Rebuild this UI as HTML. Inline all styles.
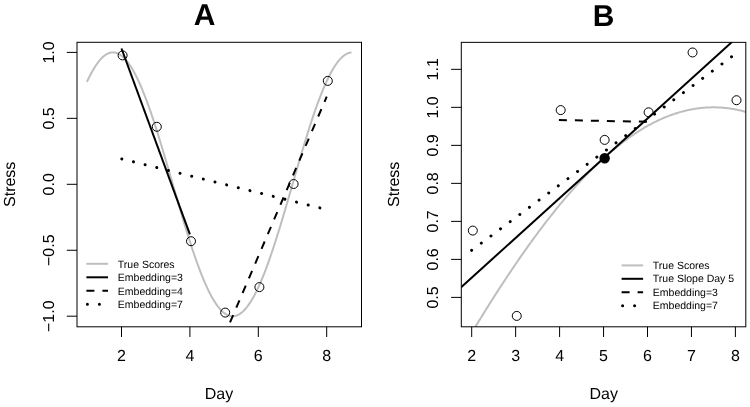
<!DOCTYPE html>
<html><head><meta charset="utf-8"><title>Figure</title>
<style>
html,body{margin:0;padding:0;background:#fff;}
body{width:750px;height:407px;overflow:hidden;}
svg{display:block;will-change:transform;filter:blur(0.4px);}
svg text{font-family:"Liberation Sans",sans-serif;fill:#000;text-rendering:geometricPrecision;}
</style></head><body>
<svg width="750" height="407" viewBox="0 0 750 407">
<defs>
<clipPath id="ca"><rect x="77.00" y="42.30" width="284.50" height="284.50"/></clipPath>
<clipPath id="cb"><rect x="461.30" y="42.35" width="284.50" height="284.45"/></clipPath>
</defs>
<rect width="750" height="407" fill="#fff"/>
<g clip-path="url(#ca)" fill="none">
<path d="M87.30,81.18 L87.98,79.72 L88.67,78.29 L89.35,76.90 L90.04,75.54 L90.72,74.22 L91.40,72.93 L92.09,71.68 L92.77,70.47 L93.46,69.29 L94.14,68.15 L94.82,67.05 L95.51,65.98 L96.19,64.95 L96.88,63.96 L97.56,63.01 L98.24,62.10 L98.93,61.23 L99.61,60.40 L100.30,59.61 L100.98,58.86 L101.66,58.14 L102.35,57.47 L103.03,56.84 L103.72,56.25 L104.40,55.71 L105.08,55.20 L105.77,54.74 L106.45,54.31 L107.14,53.93 L107.82,53.59 L108.50,53.30 L109.19,53.04 L109.87,52.83 L110.56,52.66 L111.24,52.53 L111.92,52.45 L112.61,52.41 L113.29,52.41 L113.98,52.45 L114.66,52.53 L115.34,52.66 L116.03,52.83 L116.71,53.04 L117.40,53.30 L118.08,53.59 L118.76,53.93 L119.45,54.31 L120.13,54.74 L120.82,55.20 L121.50,55.71 L122.18,56.25 L122.87,56.84 L123.55,57.47 L124.24,58.14 L124.92,58.86 L125.60,59.61 L126.29,60.40 L126.97,61.23 L127.66,62.10 L128.34,63.01 L129.02,63.96 L129.71,64.95 L130.39,65.98 L131.08,67.05 L131.76,68.15 L132.44,69.29 L133.13,70.47 L133.81,71.68 L134.50,72.93 L135.18,74.22 L135.86,75.54 L136.55,76.90 L137.23,78.29 L137.92,79.72 L138.60,81.18 L139.28,82.67 L139.97,84.19 L140.65,85.75 L141.34,87.34 L142.02,88.96 L142.70,90.61 L143.39,92.30 L144.07,94.01 L144.76,95.75 L145.44,97.52 L146.12,99.31 L146.81,101.14 L147.49,102.99 L148.18,104.87 L148.86,106.77 L149.54,108.70 L150.23,110.65 L150.91,112.63 L151.60,114.63 L152.28,116.65 L152.96,118.69 L153.65,120.76 L154.33,122.84 L155.02,124.95 L155.70,127.07 L156.38,129.21 L157.07,131.37 L157.75,133.55 L158.44,135.74 L159.12,137.95 L159.80,140.18 L160.49,142.42 L161.17,144.67 L161.86,146.93 L162.54,149.21 L163.22,151.50 L163.91,153.80 L164.59,156.10 L165.28,158.42 L165.96,160.75 L166.64,163.08 L167.33,165.42 L168.01,167.77 L168.70,170.12 L169.38,172.48 L170.06,174.84 L170.75,177.20 L171.43,179.57 L172.12,181.93 L172.80,184.30 L173.48,186.67 L174.17,189.03 L174.85,191.40 L175.54,193.76 L176.22,196.12 L176.90,198.48 L177.59,200.83 L178.27,203.18 L178.96,205.52 L179.64,207.85 L180.32,210.18 L181.01,212.50 L181.69,214.80 L182.38,217.10 L183.06,219.39 L183.74,221.67 L184.43,223.93 L185.11,226.18 L185.80,228.42 L186.48,230.65 L187.16,232.86 L187.85,235.05 L188.53,237.23 L189.22,239.39 L189.90,241.53 L190.58,243.65 L191.27,245.76 L191.95,247.84 L192.64,249.91 L193.32,251.95 L194.00,253.97 L194.69,255.97 L195.37,257.95 L196.06,259.90 L196.74,261.83 L197.42,263.73 L198.11,265.61 L198.79,267.46 L199.48,269.29 L200.16,271.08 L200.84,272.85 L201.53,274.59 L202.21,276.30 L202.90,277.99 L203.58,279.64 L204.26,281.26 L204.95,282.85 L205.63,284.41 L206.32,285.93 L207.00,287.42 L207.68,288.88 L208.37,290.31 L209.05,291.70 L209.74,293.06 L210.42,294.38 L211.10,295.67 L211.79,296.92 L212.47,298.13 L213.16,299.31 L213.84,300.45 L214.52,301.55 L215.21,302.62 L215.89,303.65 L216.58,304.64 L217.26,305.59 L217.94,306.50 L218.63,307.37 L219.31,308.20 L220.00,308.99 L220.68,309.74 L221.36,310.46 L222.05,311.13 L222.73,311.76 L223.42,312.35 L224.10,312.89 L224.78,313.40 L225.47,313.86 L226.15,314.29 L226.84,314.67 L227.52,315.01 L228.20,315.30 L228.89,315.56 L229.57,315.77 L230.26,315.94 L230.94,316.07 L231.62,316.15 L232.31,316.19 L232.99,316.19 L233.68,316.15 L234.36,316.07 L235.04,315.94 L235.73,315.77 L236.41,315.56 L237.10,315.30 L237.78,315.01 L238.46,314.67 L239.15,314.29 L239.83,313.86 L240.52,313.40 L241.20,312.89 L241.88,312.35 L242.57,311.76 L243.25,311.13 L243.94,310.46 L244.62,309.74 L245.30,308.99 L245.99,308.20 L246.67,307.37 L247.36,306.50 L248.04,305.59 L248.72,304.64 L249.41,303.65 L250.09,302.62 L250.78,301.55 L251.46,300.45 L252.14,299.31 L252.83,298.13 L253.51,296.92 L254.20,295.67 L254.88,294.38 L255.56,293.06 L256.25,291.70 L256.93,290.31 L257.62,288.88 L258.30,287.42 L258.98,285.93 L259.67,284.41 L260.35,282.85 L261.04,281.26 L261.72,279.64 L262.40,277.99 L263.09,276.30 L263.77,274.59 L264.46,272.85 L265.14,271.08 L265.82,269.29 L266.51,267.46 L267.19,265.61 L267.88,263.73 L268.56,261.83 L269.24,259.90 L269.93,257.95 L270.61,255.97 L271.30,253.97 L271.98,251.95 L272.66,249.91 L273.35,247.84 L274.03,245.76 L274.72,243.65 L275.40,241.53 L276.08,239.39 L276.77,237.23 L277.45,235.05 L278.14,232.86 L278.82,230.65 L279.50,228.42 L280.19,226.18 L280.87,223.93 L281.56,221.67 L282.24,219.39 L282.92,217.10 L283.61,214.80 L284.29,212.50 L284.98,210.18 L285.66,207.85 L286.34,205.52 L287.03,203.18 L287.71,200.83 L288.40,198.48 L289.08,196.12 L289.76,193.76 L290.45,191.40 L291.13,189.03 L291.82,186.67 L292.50,184.30 L293.18,181.93 L293.87,179.57 L294.55,177.20 L295.24,174.84 L295.92,172.48 L296.60,170.12 L297.29,167.77 L297.97,165.42 L298.66,163.08 L299.34,160.75 L300.02,158.42 L300.71,156.10 L301.39,153.80 L302.08,151.50 L302.76,149.21 L303.44,146.93 L304.13,144.67 L304.81,142.42 L305.50,140.18 L306.18,137.95 L306.86,135.74 L307.55,133.55 L308.23,131.37 L308.92,129.21 L309.60,127.07 L310.28,124.95 L310.97,122.84 L311.65,120.76 L312.34,118.69 L313.02,116.65 L313.70,114.63 L314.39,112.63 L315.07,110.65 L315.76,108.70 L316.44,106.77 L317.12,104.87 L317.81,102.99 L318.49,101.14 L319.18,99.31 L319.86,97.52 L320.54,95.75 L321.23,94.01 L321.91,92.30 L322.60,90.61 L323.28,88.96 L323.96,87.34 L324.65,85.75 L325.33,84.19 L326.02,82.67 L326.70,81.18 L327.38,79.72 L328.07,78.29 L328.75,76.90 L329.44,75.54 L330.12,74.22 L330.80,72.93 L331.49,71.68 L332.17,70.47 L332.86,69.29 L333.54,68.15 L334.22,67.05 L334.91,65.98 L335.59,64.95 L336.28,63.96 L336.96,63.01 L337.64,62.10 L338.33,61.23 L339.01,60.40 L339.70,59.61 L340.38,58.86 L341.06,58.14 L341.75,57.47 L342.43,56.84 L343.12,56.25 L343.80,55.71 L344.48,55.20 L345.17,54.74 L345.85,54.31 L346.54,53.93 L347.22,53.59 L347.90,53.30 L348.59,53.04 L349.27,52.83 L349.96,52.66 L350.64,52.53" stroke="#bebebe" stroke-width="2" stroke-linejoin="round" stroke-linecap="round"/>
<line x1="121.50" y1="48.52" x2="189.90" y2="234.35" stroke="#000" stroke-width="2"/>
<line x1="224.10" y1="336.19" x2="326.70" y2="96.71" stroke="#000" stroke-dashoffset="1" stroke-width="2" stroke-dasharray="8 8"/>
<line x1="121.80" y1="158.93" x2="327.00" y2="209.67" stroke="#000" stroke-width="3" stroke-dasharray="0.01 11.99" stroke-linecap="round"/>
</g>
<circle cx="122.60" cy="55.41" r="4.5" fill="none" stroke="#000" stroke-width="1"/>
<circle cx="156.80" cy="126.77" r="4.5" fill="none" stroke="#000" stroke-width="1"/>
<circle cx="191.00" cy="241.23" r="4.5" fill="none" stroke="#000" stroke-width="1"/>
<circle cx="225.20" cy="312.59" r="4.5" fill="none" stroke="#000" stroke-width="1"/>
<circle cx="259.40" cy="287.12" r="4.5" fill="none" stroke="#000" stroke-width="1"/>
<circle cx="293.60" cy="184.00" r="4.5" fill="none" stroke="#000" stroke-width="1"/>
<circle cx="327.80" cy="80.88" r="4.5" fill="none" stroke="#000" stroke-width="1"/>
<rect x="77.00" y="42.30" width="284.50" height="284.50" fill="none" stroke="#000" stroke-width="1"/>
<line x1="121.50" y1="326.80" x2="121.50" y2="337.00" stroke="#000" stroke-width="1"/>
<text x="121.50" y="361.2" font-size="16" text-anchor="middle">2</text>
<line x1="189.90" y1="326.80" x2="189.90" y2="337.00" stroke="#000" stroke-width="1"/>
<text x="189.90" y="361.2" font-size="16" text-anchor="middle">4</text>
<line x1="258.30" y1="326.80" x2="258.30" y2="337.00" stroke="#000" stroke-width="1"/>
<text x="258.30" y="361.2" font-size="16" text-anchor="middle">6</text>
<line x1="326.70" y1="326.80" x2="326.70" y2="337.00" stroke="#000" stroke-width="1"/>
<text x="326.70" y="361.2" font-size="16" text-anchor="middle">8</text>
<line x1="66.80" y1="316.20" x2="77.00" y2="316.20" stroke="#000" stroke-width="1"/>
<text transform="translate(53.9,316.20) rotate(-90)" font-size="16" text-anchor="middle">−1.0</text>
<line x1="66.80" y1="250.25" x2="77.00" y2="250.25" stroke="#000" stroke-width="1"/>
<text transform="translate(53.9,250.25) rotate(-90)" font-size="16" text-anchor="middle">−0.5</text>
<line x1="66.80" y1="184.30" x2="77.00" y2="184.30" stroke="#000" stroke-width="1"/>
<text transform="translate(53.9,184.30) rotate(-90)" font-size="16" text-anchor="middle">0.0</text>
<line x1="66.80" y1="118.35" x2="77.00" y2="118.35" stroke="#000" stroke-width="1"/>
<text transform="translate(53.9,118.35) rotate(-90)" font-size="16" text-anchor="middle">0.5</text>
<line x1="66.80" y1="52.40" x2="77.00" y2="52.40" stroke="#000" stroke-width="1"/>
<text transform="translate(53.9,52.40) rotate(-90)" font-size="16" text-anchor="middle">1.0</text>
<text x="219" y="399.4" font-size="16" text-anchor="middle">Day</text>
<text transform="translate(15.4,184.3) rotate(-90)" font-size="16" text-anchor="middle">Stress</text>
<text x="204.6" y="24.8" font-size="30" font-weight="bold" text-anchor="middle">A</text>
<line x1="86.40" y1="263.80" x2="108.00" y2="263.80" stroke="#bebebe" stroke-width="2"/>
<line x1="86.40" y1="277.30" x2="108.00" y2="277.30" stroke="#000" stroke-width="2"/>
<line x1="86.40" y1="290.70" x2="108.00" y2="290.70" stroke="#000" stroke-width="2" stroke-dasharray="8 8"/>
<line x1="87.40" y1="304.30" x2="108.00" y2="304.30" stroke="#000" stroke-width="3" stroke-dasharray="0.01 11.99" stroke-linecap="round"/>
<text x="117.8" y="267.75" font-size="10.5">True Scores</text>
<text x="117.8" y="281.25" font-size="10.5">Embedding=3</text>
<text x="117.8" y="294.65" font-size="10.5">Embedding=4</text>
<text x="117.8" y="308.25" font-size="10.5">Embedding=7</text>
<g clip-path="url(#cb)" fill="none">
<path d="M458.51,354.96 L459.39,353.47 L460.27,351.98 L461.15,350.49 L462.03,349.01 L462.91,347.53 L463.79,346.05 L464.67,344.57 L465.55,343.10 L466.43,341.62 L467.31,340.16 L468.18,338.69 L469.06,337.23 L469.94,335.76 L470.82,334.31 L471.70,332.85 L472.58,331.40 L473.46,329.95 L474.34,328.50 L475.22,327.05 L476.09,325.61 L476.97,324.17 L477.85,322.74 L478.73,321.30 L479.61,319.87 L480.49,318.44 L481.37,317.02 L482.25,315.60 L483.13,314.18 L484.01,312.76 L484.88,311.35 L485.76,309.94 L486.64,308.54 L487.52,307.13 L488.40,305.73 L489.28,304.34 L490.16,302.94 L491.04,301.55 L491.92,300.16 L492.80,298.78 L493.68,297.40 L494.55,296.02 L495.43,294.65 L496.31,293.28 L497.19,291.91 L498.07,290.55 L498.95,289.19 L499.83,287.83 L500.71,286.48 L501.59,285.13 L502.46,283.78 L503.34,282.44 L504.22,281.10 L505.10,279.77 L505.98,278.43 L506.86,277.11 L507.74,275.78 L508.62,274.46 L509.50,273.14 L510.38,271.83 L511.25,270.52 L512.13,269.22 L513.01,267.91 L513.89,266.62 L514.77,265.32 L515.65,264.03 L516.53,262.75 L517.41,261.46 L518.29,260.19 L519.17,258.91 L520.04,257.64 L520.92,256.38 L521.80,255.11 L522.68,253.86 L523.56,252.60 L524.44,251.35 L525.32,250.11 L526.20,248.86 L527.08,247.63 L527.96,246.39 L528.84,245.17 L529.71,243.94 L530.59,242.72 L531.47,241.50 L532.35,240.29 L533.23,239.08 L534.11,237.88 L534.99,236.68 L535.87,235.49 L536.75,234.30 L537.62,233.11 L538.50,231.93 L539.38,230.76 L540.26,229.58 L541.14,228.42 L542.02,227.25 L542.90,226.10 L543.78,224.94 L544.66,223.79 L545.54,222.65 L546.41,221.51 L547.29,220.37 L548.17,219.24 L549.05,218.12 L549.93,217.00 L550.81,215.88 L551.69,214.77 L552.57,213.66 L553.45,212.56 L554.33,211.46 L555.21,210.37 L556.08,209.28 L556.96,208.20 L557.84,207.12 L558.72,206.05 L559.60,204.98 L560.48,203.92 L561.36,202.86 L562.24,201.81 L563.12,200.76 L564.00,199.72 L564.87,198.68 L565.75,197.65 L566.63,196.62 L567.51,195.60 L568.39,194.58 L569.27,193.57 L570.15,192.56 L571.03,191.56 L571.91,190.56 L572.78,189.57 L573.66,188.58 L574.54,187.60 L575.42,186.62 L576.30,185.65 L577.18,184.69 L578.06,183.73 L578.94,182.77 L579.82,181.83 L580.70,180.88 L581.58,179.94 L582.45,179.01 L583.33,178.08 L584.21,177.16 L585.09,176.24 L585.97,175.33 L586.85,174.43 L587.73,173.52 L588.61,172.63 L589.49,171.74 L590.37,170.86 L591.24,169.98 L592.12,169.11 L593.00,168.24 L593.88,167.38 L594.76,166.52 L595.64,165.67 L596.52,164.83 L597.40,163.99 L598.28,163.15 L599.15,162.33 L600.03,161.50 L600.91,160.69 L601.79,159.88 L602.67,159.07 L603.55,158.27 L604.43,157.48 L605.31,156.69 L606.19,155.91 L607.07,155.14 L607.94,154.37 L608.82,153.60 L609.70,152.84 L610.58,152.09 L611.46,151.34 L612.34,150.60 L613.22,149.87 L614.10,149.14 L614.98,148.42 L615.86,147.70 L616.74,146.99 L617.61,146.29 L618.49,145.59 L619.37,144.89 L620.25,144.21 L621.13,143.53 L622.01,142.85 L622.89,142.18 L623.77,141.52 L624.65,140.86 L625.52,140.21 L626.40,139.57 L627.28,138.93 L628.16,138.30 L629.04,137.67 L629.92,137.05 L630.80,136.44 L631.68,135.83 L632.56,135.23 L633.44,134.63 L634.32,134.04 L635.19,133.46 L636.07,132.88 L636.95,132.31 L637.83,131.75 L638.71,131.19 L639.59,130.64 L640.47,130.09 L641.35,129.55 L642.23,129.02 L643.11,128.49 L643.98,127.97 L644.86,127.46 L645.74,126.95 L646.62,126.45 L647.50,125.95 L648.38,125.46 L649.26,124.98 L650.14,124.51 L651.02,124.04 L651.89,123.57 L652.77,123.12 L653.65,122.67 L654.53,122.22 L655.41,121.78 L656.29,121.35 L657.17,120.93 L658.05,120.51 L658.93,120.10 L659.81,119.69 L660.69,119.29 L661.56,118.90 L662.44,118.51 L663.32,118.13 L664.20,117.76 L665.08,117.39 L665.96,117.03 L666.84,116.68 L667.72,116.33 L668.60,115.99 L669.48,115.66 L670.35,115.33 L671.23,115.01 L672.11,114.69 L672.99,114.38 L673.87,114.08 L674.75,113.79 L675.63,113.50 L676.51,113.22 L677.39,112.94 L678.26,112.67 L679.14,112.41 L680.02,112.16 L680.90,111.91 L681.78,111.66 L682.66,111.43 L683.54,111.20 L684.42,110.98 L685.30,110.76 L686.18,110.55 L687.06,110.35 L687.93,110.15 L688.81,109.96 L689.69,109.78 L690.57,109.60 L691.45,109.43 L692.33,109.27 L693.21,109.11 L694.09,108.96 L694.97,108.82 L695.85,108.68 L696.72,108.55 L697.60,108.43 L698.48,108.31 L699.36,108.20 L700.24,108.10 L701.12,108.00 L702.00,107.91 L702.88,107.83 L703.76,107.75 L704.63,107.68 L705.51,107.62 L706.39,107.56 L707.27,107.51 L708.15,107.47 L709.03,107.43 L709.91,107.40 L710.79,107.38 L711.67,107.36 L712.55,107.35 L713.42,107.35 L714.30,107.35 L715.18,107.36 L716.06,107.38 L716.94,107.40 L717.82,107.43 L718.70,107.47 L719.58,107.51 L720.46,107.56 L721.34,107.62 L722.22,107.68 L723.09,107.75 L723.97,107.83 L724.85,107.91 L725.73,108.00 L726.61,108.10 L727.49,108.20 L728.37,108.31 L729.25,108.43 L730.13,108.55 L731.00,108.68 L731.88,108.82 L732.76,108.96 L733.64,109.11 L734.52,109.27 L735.40,109.43 L736.28,109.60 L737.16,109.78 L738.04,109.96 L738.92,110.15 L739.80,110.35 L740.67,110.55 L741.55,110.76 L742.43,110.98 L743.31,111.20 L744.19,111.43 L745.07,111.66 L745.95,111.91 L746.83,112.16 L747.71,112.41 L748.59,112.67 L749.46,112.94 L750.34,113.22 L751.22,113.50 L752.10,113.79 L752.98,114.08" stroke="#bebebe" stroke-width="2" stroke-linejoin="round"/>
<line x1="449.72" y1="297.59" x2="757.38" y2="18.96" stroke="#000" stroke-width="2"/>
<line x1="558.90" y1="120.01" x2="647.50" y2="121.79" stroke="#000" stroke-width="2" stroke-dasharray="8 8"/>
<line x1="471.70" y1="250.30" x2="735.40" y2="53.95" stroke="#000" stroke-width="3" stroke-dasharray="0.01 11.99" stroke-linecap="round"/>
</g>
<circle cx="472.80" cy="230.58" r="4.5" fill="none" stroke="#000" stroke-width="1"/>
<circle cx="516.75" cy="315.91" r="4.5" fill="none" stroke="#000" stroke-width="1"/>
<circle cx="560.70" cy="110.09" r="4.5" fill="none" stroke="#000" stroke-width="1"/>
<circle cx="604.65" cy="139.89" r="4.5" fill="none" stroke="#000" stroke-width="1"/>
<circle cx="648.60" cy="112.30" r="4.5" fill="none" stroke="#000" stroke-width="1"/>
<circle cx="692.55" cy="52.47" r="4.5" fill="none" stroke="#000" stroke-width="1"/>
<circle cx="736.50" cy="100.21" r="4.5" fill="none" stroke="#000" stroke-width="1"/>
<circle cx="604.65" cy="158.27" r="5.2" fill="#000"/>
<rect x="461.30" y="42.35" width="284.50" height="284.45" fill="none" stroke="#000" stroke-width="1"/>
<line x1="471.70" y1="326.80" x2="471.70" y2="337.00" stroke="#000" stroke-width="1"/>
<text x="471.70" y="361.2" font-size="16" text-anchor="middle">2</text>
<line x1="515.65" y1="326.80" x2="515.65" y2="337.00" stroke="#000" stroke-width="1"/>
<text x="515.65" y="361.2" font-size="16" text-anchor="middle">3</text>
<line x1="559.60" y1="326.80" x2="559.60" y2="337.00" stroke="#000" stroke-width="1"/>
<text x="559.60" y="361.2" font-size="16" text-anchor="middle">4</text>
<line x1="603.55" y1="326.80" x2="603.55" y2="337.00" stroke="#000" stroke-width="1"/>
<text x="603.55" y="361.2" font-size="16" text-anchor="middle">5</text>
<line x1="647.50" y1="326.80" x2="647.50" y2="337.00" stroke="#000" stroke-width="1"/>
<text x="647.50" y="361.2" font-size="16" text-anchor="middle">6</text>
<line x1="691.45" y1="326.80" x2="691.45" y2="337.00" stroke="#000" stroke-width="1"/>
<text x="691.45" y="361.2" font-size="16" text-anchor="middle">7</text>
<line x1="735.40" y1="326.80" x2="735.40" y2="337.00" stroke="#000" stroke-width="1"/>
<text x="735.40" y="361.2" font-size="16" text-anchor="middle">8</text>
<line x1="451.10" y1="297.40" x2="461.30" y2="297.40" stroke="#000" stroke-width="1"/>
<text transform="translate(438.4,297.40) rotate(-90)" font-size="16" text-anchor="middle">0.5</text>
<line x1="451.10" y1="259.39" x2="461.30" y2="259.39" stroke="#000" stroke-width="1"/>
<text transform="translate(438.4,259.39) rotate(-90)" font-size="16" text-anchor="middle">0.6</text>
<line x1="451.10" y1="221.38" x2="461.30" y2="221.38" stroke="#000" stroke-width="1"/>
<text transform="translate(438.4,221.38) rotate(-90)" font-size="16" text-anchor="middle">0.7</text>
<line x1="451.10" y1="183.37" x2="461.30" y2="183.37" stroke="#000" stroke-width="1"/>
<text transform="translate(438.4,183.37) rotate(-90)" font-size="16" text-anchor="middle">0.8</text>
<line x1="451.10" y1="145.36" x2="461.30" y2="145.36" stroke="#000" stroke-width="1"/>
<text transform="translate(438.4,145.36) rotate(-90)" font-size="16" text-anchor="middle">0.9</text>
<line x1="451.10" y1="107.35" x2="461.30" y2="107.35" stroke="#000" stroke-width="1"/>
<text transform="translate(438.4,107.35) rotate(-90)" font-size="16" text-anchor="middle">1.0</text>
<line x1="451.10" y1="69.34" x2="461.30" y2="69.34" stroke="#000" stroke-width="1"/>
<text transform="translate(438.4,69.34) rotate(-90)" font-size="16" text-anchor="middle">1.1</text>
<text x="603.7" y="399.4" font-size="16" text-anchor="middle">Day</text>
<text transform="translate(399.4,184.3) rotate(-90)" font-size="16" text-anchor="middle">Stress</text>
<text x="603.7" y="25.8" font-size="30" font-weight="bold" text-anchor="middle">B</text>
<line x1="621.60" y1="265.40" x2="643.10" y2="265.40" stroke="#bebebe" stroke-width="2"/>
<line x1="621.60" y1="278.80" x2="643.10" y2="278.80" stroke="#000" stroke-width="2"/>
<line x1="621.60" y1="292.30" x2="643.10" y2="292.30" stroke="#000" stroke-width="2" stroke-dasharray="8 8"/>
<line x1="622.60" y1="305.80" x2="643.10" y2="305.80" stroke="#000" stroke-width="3" stroke-dasharray="0.01 11.99" stroke-linecap="round"/>
<text x="652.8" y="269.05" font-size="10.5">True Scores</text>
<text x="652.8" y="282.45" font-size="10.5">True Slope Day 5</text>
<text x="652.8" y="295.95" font-size="10.5">Embedding=3</text>
<text x="652.8" y="309.45" font-size="10.5">Embedding=7</text>
</svg>
</body></html>
